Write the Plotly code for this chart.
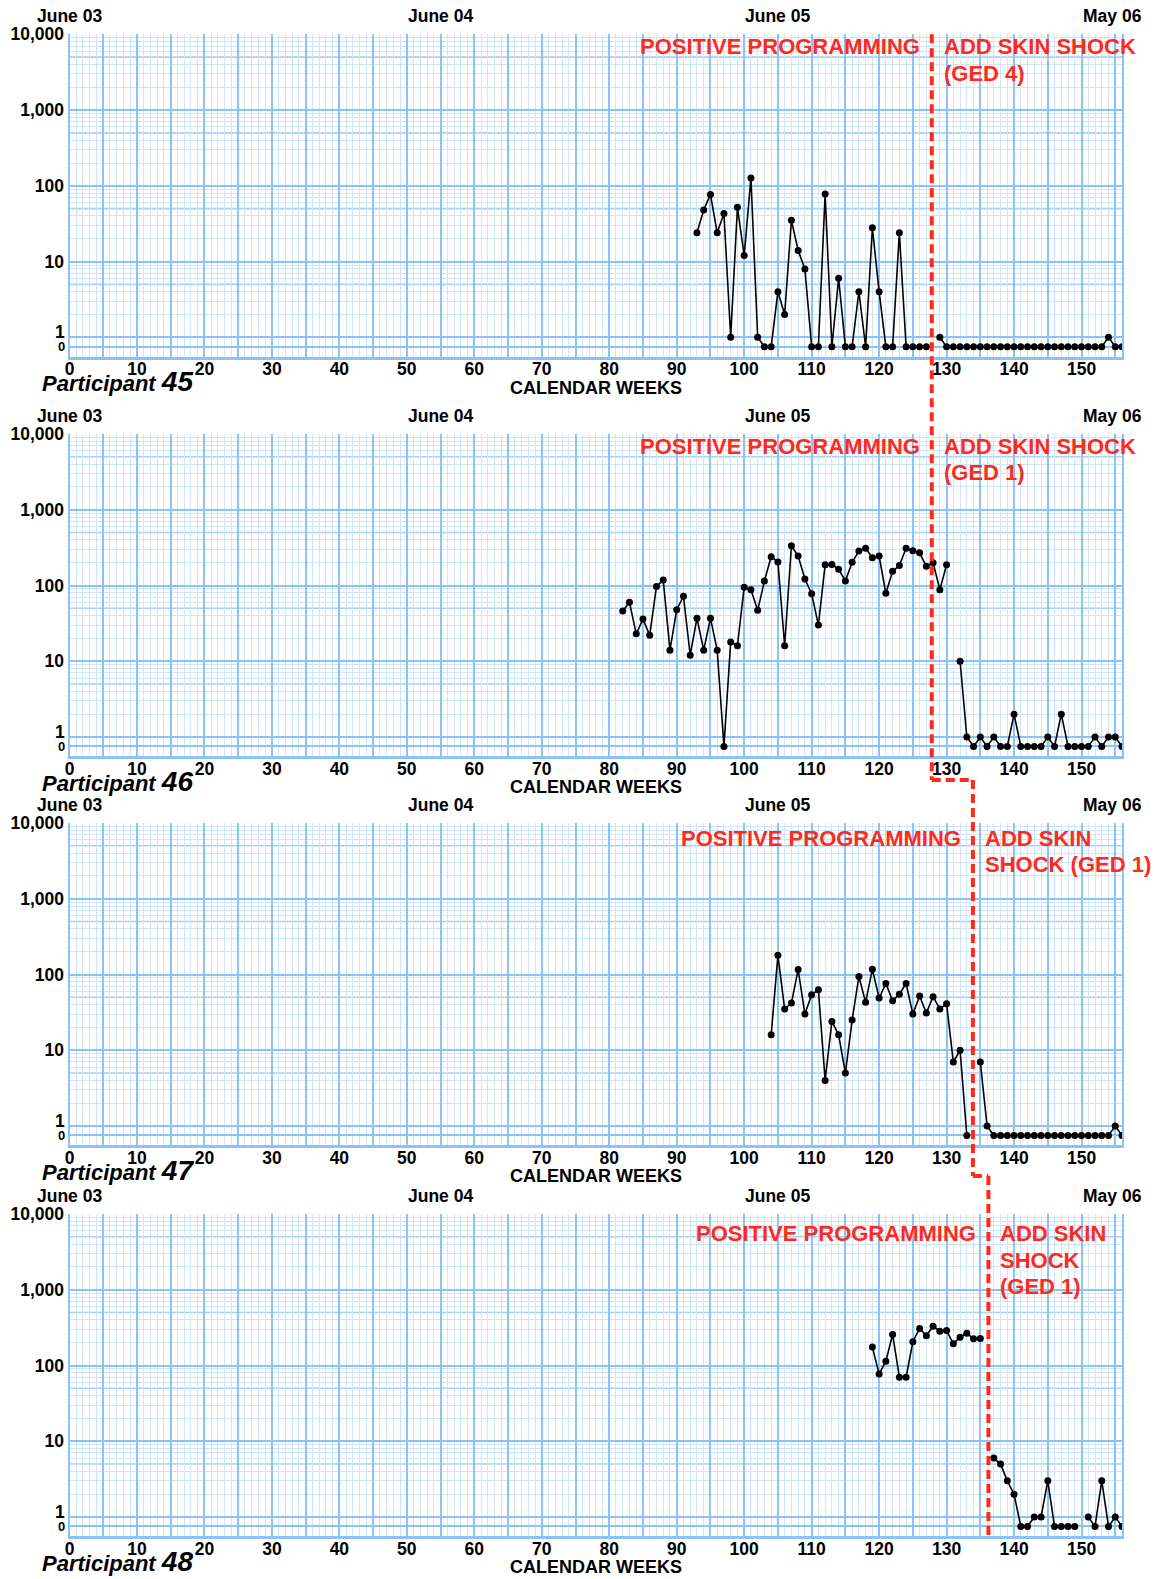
import math
import plotly.graph_objects as go

W, H = 1154, 1579

# ---------------- data ----------------
PARTICIPANTS = ["45", "46", "47", "48"]
BASELINE_LABEL = "POSITIVE PROGRAMMING"
SHOCK_LABELS = [
    ["ADD SKIN SHOCK", "(GED 4)"],
    ["ADD SKIN SHOCK", "(GED 1)"],
    ["ADD SKIN", "SHOCK (GED 1)"],
    ["ADD SKIN", "SHOCK", "(GED 1)"],
]
PHASE_CHANGE_WEEK = [127.8, 127.8, 133.9, 136.2]

DATE_LABELS = ["June 03", "June 04", "June 05", "May 06"]
DATE_WEEKS = [0, 55, 105, 154.6]
X_TICKS = [0, 10, 20, 30, 40, 50, 60, 70, 80, 90, 100, 110, 120, 130, 140, 150]
Y_TICK_VALUES = [10, 100, 1000, 10000]
Y_TICK_TEXT = ["10", "100", "1,000", "10,000"]

P45_WEEKS = list(range(93, 157))
P45_RATE = [24, 48, 77, 24, 43, 1, 52, 12, 127, 1, 0, 0, 4, 2, 35, 14, 8, 0, 0, 78,
            0, 6, 0, 0, 4, 0, 28, 4, 0, 0, 24, 0, 0, 0, 0, None, 1,
            0, 0, 0, 0, 0, 0, 0, 0, 0, 0, 0, 0, 0, 0, 0, 0, 0, 0, 0, 0, 0, 0, 0, 0,
            1, 0, 0]

P46_WEEKS = list(range(82, 157))
P46_RATE = [46, 60, 23, 36, 22, 97, 118, 14, 48, 72, 12, 37, 14, 37, 14, 0, 18, 16,
            95, 88, 47, 115, 240, 205, 16, 335, 245, 122, 78, 30, 188, 190, 164, 115,
            202, 285, 310, 233, 245, 79, 154, 183, 310, 288, 270, 179, 200, 88, 188,
            None, 10, 1, 0, 1, 0, 1, 0, 0, 2, 0, 0, 0, 0, 1, 0, 2, 0, 0, 0, 0, 1, 0,
            1, 1, 0]

P47_WEEKS = list(range(104, 157))
P47_RATE = [16, 179, 35, 42, 116, 30, 54, 63, 4, 24, 16, 5, 25, 94, 43, 117, 49, 76,
            45, 55, 76, 30, 52, 31, 51, 35, 41, 7, 10, 0, None, 7, 1,
            0, 0, 0, 0, 0, 0, 0, 0, 0, 0, 0, 0, 0, 0, 0, 0, 0, 0, 1, 0]

P48_WEEKS = list(range(119, 157))
P48_RATE = [175, 77, 114, 257, 70, 70, 206, 308, 247, 330, 284, 290, 193, 236, 267,
            225, 227, None, 6, 5, 3, 2, 0, 0, 1, 1, 3, 0, 0, 0, 0, None, 1, 0, 3, 0,
            1, 0]

SERIES = [(P45_WEEKS, P45_RATE), (P46_WEEKS, P46_RATE),
          (P47_WEEKS, P47_RATE), (P48_WEEKS, P48_RATE)]

# ---------------- style / geometry ----------------
ZERO_POS = 0.75            # where a count of zero is drawn (below the 1 line)
Y_RANGE = [-0.256, 4.0]    # log10 units
PANEL_TOP = [34.3, 434.0, 823.0, 1214.0]
PANEL_H = 322.4
X0_PX, X1_PX = 69.5, 1122.0
STEP_Y_PX = [780.0, 1176.0]

MAJOR = "#8cc3f6"
MID = "#a8d1f9"
MINOR = "#cfe5fc"
RED = "#ff2a1c"
FONT = "Liberation Sans, Arial, sans-serif"
TICK_SIZE = 17.5


def yp(px):
    return 1 - px / H


fig = go.Figure()
annotations = []
shapes = []

minor_vals = [k * 10 ** d for d in range(4) for k in (2, 3, 4, 6, 7, 8, 9)]

for i, (weeks, rates) in enumerate(SERIES):
    n = "" if i == 0 else str(i + 1)
    xa, ya = "x" + n, "y" + n
    top, bot = PANEL_TOP[i], PANEL_TOP[i] + PANEL_H
    plotted = [None if v is None else (ZERO_POS if v == 0 else v) for v in rates]
    fig.add_trace(go.Scatter(
        x=weeks, y=plotted, xaxis=xa, yaxis=ya, mode="lines+markers",
        line=dict(color="black", width=1.6),
        marker=dict(color="black", size=7),
        connectgaps=False, showlegend=False, hoverinfo="skip"))

    fig.update_layout(**{
        "xaxis" + n: dict(
            domain=[X0_PX / W, X1_PX / W], range=[0, 156], anchor=ya,
            tickmode="array", tickvals=list(range(0, 160, 5)),
            ticktext=[str(v) if v in X_TICKS else "" for v in range(0, 160, 5)],
            ticks="", showgrid=True, gridcolor=MAJOR, gridwidth=2,
            minor=dict(tickmode="linear", tick0=0, dtick=1, showgrid=True,
                       gridcolor=MINOR, gridwidth=1),
            showline=True, linecolor=MAJOR, linewidth=2.5, zeroline=False,
            ticklabelstandoff=-5,
            tickfont=dict(family=FONT, size=TICK_SIZE, color="black", weight="bold"),
            automargin=False, fixedrange=True),
        "yaxis" + n: dict(
            domain=[yp(bot), yp(top)], type="log", range=Y_RANGE, anchor=xa,
            tickmode="array", tickvals=[ZERO_POS, 1] + Y_TICK_VALUES,
            ticktext=["", ""] + Y_TICK_TEXT,
            ticks="", showgrid=True, gridcolor=MAJOR, gridwidth=2,
            minor=dict(tickmode="array", tickvals=minor_vals, showgrid=True,
                       gridcolor=MINOR, gridwidth=1),
            showline=True, mirror=True, linecolor=MAJOR, linewidth=2,
            zeroline=False,
            tickfont=dict(family=FONT, size=TICK_SIZE, color="black", weight="bold"),
            automargin=False, fixedrange=True),
    })

    # 5x lines slightly stronger (placed by fraction of the log range)
    for d in range(4):
        frac = (math.log10(5 * 10 ** d) - Y_RANGE[0]) / (Y_RANGE[1] - Y_RANGE[0])
        shapes.append(dict(type="line", xref=xa + " domain", yref=ya + " domain",
                           x0=0, x1=1, y0=frac, y1=frac, layer="below",
                           line=dict(color=MID, width=1.6)))

    # "1" and "0" labels
    annotations.append(dict(text="<b>1</b>", xref="paper", x=66.5 / W, xanchor="right",
                            yref=ya, y=0, yanchor="middle", yshift=5, showarrow=False,
                            font=dict(family=FONT, size=TICK_SIZE, color="black")))
    annotations.append(dict(text="<b>0</b>", xref="paper", x=66.5 / W, xanchor="right",
                            yref=ya, y=math.log10(ZERO_POS), yanchor="middle",
                            showarrow=False,
                            font=dict(family=FONT, size=13, color="black")))

    # dates along the top
    for lab, wk in zip(DATE_LABELS, DATE_WEEKS):
        annotations.append(dict(text="<b>%s</b>" % lab, xref=xa, x=wk, xanchor="center",
                                yref=ya + " domain", y=1, yanchor="middle", yshift=18,
                                showarrow=False,
                                font=dict(family=FONT, size=TICK_SIZE, color="black")))

    # axis title
    annotations.append(dict(text="<b>CALENDAR WEEKS</b>", xref=xa + " domain", x=0.5,
                            xanchor="center", yref=ya + " domain", y=0,
                            yanchor="middle", yshift=-31, showarrow=False,
                            font=dict(family=FONT, size=18, color="black")))

    # participant label
    annotations.append(dict(
        text="<b><i>Participant <span style='font-size:28px'>%s</span></i></b>" % PARTICIPANTS[i],
        xref="paper", x=40 / W, xanchor="left", yref=ya + " domain", y=0,
        yanchor="middle", yshift=-25, showarrow=False,
        font=dict(family=FONT, size=22, color="black")))

    # phase labels
    first_off = [12.5, 12.5, 15.5, 19.5][i]
    annotations.append(dict(text="<b>%s</b>" % BASELINE_LABEL, xref=xa,
                            x=PHASE_CHANGE_WEEK[i], xanchor="right", xshift=-10,
                            yref=ya + " domain", y=1, yanchor="middle",
                            yshift=-first_off, showarrow=False,
                            font=dict(family=FONT, size=22, color=RED)))
    for k, line in enumerate(SHOCK_LABELS[i]):
        annotations.append(dict(text="<b>%s</b>" % line, xref=xa,
                                x=PHASE_CHANGE_WEEK[i], xanchor="left", xshift=10,
                                yref=ya + " domain", y=1, yanchor="middle",
                                yshift=-first_off - 26.5 * k, showarrow=False,
                                font=dict(family=FONT, size=22, color=RED)))

# phase-change line (stepped, dashed)
p = PHASE_CHANGE_WEEK
xs = [p[0], p[1], p[2], p[2], p[3], p[3]]
ys_px = [PANEL_TOP[0], STEP_Y_PX[0], STEP_Y_PX[0], STEP_Y_PX[1], STEP_Y_PX[1],
         PANEL_TOP[3] + PANEL_H]
for j in range(len(xs) - 1):
    shapes.append(dict(type="line", xref="x", yref="paper",
                       x0=xs[j], x1=xs[j + 1], y0=yp(ys_px[j]), y1=yp(ys_px[j + 1]),
                       layer="above", line=dict(color=RED, width=4, dash="9px,5px")))

fig.update_layout(
    width=W, height=H, template="none",
    margin=dict(l=0, r=0, t=0, b=0, pad=0),
    paper_bgcolor="white", plot_bgcolor="white",
    showlegend=False, annotations=annotations, shapes=shapes,
    font=dict(family=FONT, color="black"),
)

fig.write_html("out.html", config={"displayModeBar": False},
               post_script="document.body.style.margin='0';document.body.style.overflow='hidden';")
